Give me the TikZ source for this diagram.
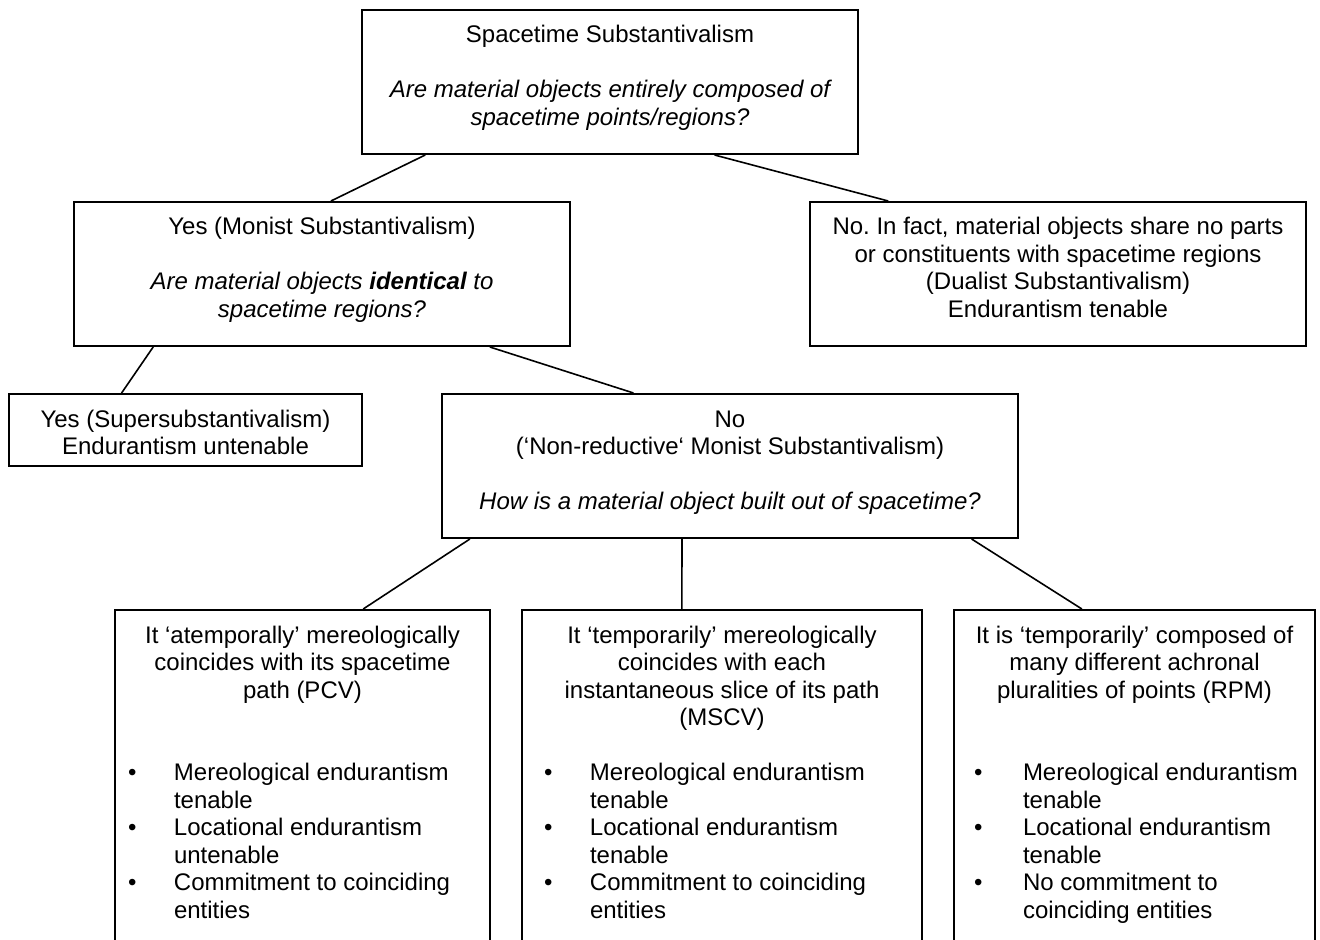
\documentclass[tikz,border=0pt]{standalone}
\usepackage{fontspec}
\setmainfont{Liberation Sans}
\usetikzlibrary{calc}
\frenchspacing

% fixed-size box, text hung from the top
\newcommand{\boxtext}[3]{\parbox[t][#2][t]{#1}{\centering\rule{0pt}{16.5pt}#3}}
\newcommand{\bulletlist}[3]{\noindent\hspace*{#1}\begin{tabular}[t]{@{}p{#2}@{}l@{}}#3\end{tabular}}

\begin{document}
\begin{tikzpicture}[x=0.5pt, y=-0.5pt,
    tbox/.style={draw=black, line width=1pt, inner sep=0pt, anchor=north west,
      font=\fontsize{12}{13.75}\selectfont},
    conn/.style={draw=black, line width=0.8pt}]
  \useasboundingbox (0,0) rectangle (1320,940);
  \clip (0,0) rectangle (1320,940);

  \node[tbox] (top) at (361,9) {\boxtext{248pt}{72pt}{Spacetime Substantivalism\\[13.75pt]
    {\itshape Are material objects entirely composed of\\spacetime points/regions?}}};
  \node[tbox] (monist) at (73,201) {\boxtext{248pt}{72pt}{Yes (Monist Substantivalism)\\[13.75pt]
    {\itshape Are material objects \textbf{identical} to\\spacetime regions?}}};
  \node[tbox] (dualist) at (809,201) {\boxtext{248pt}{72pt}{No. In fact, material objects share no parts\\
    or constituents with spacetime regions\\(Dualist Substantivalism)\\Endurantism tenable}};
  \node[tbox] (supersub) at (8,393) {\boxtext{176.5pt}{36pt}{Yes (Supersubstantivalism)\\Endurantism untenable}};
  \node[tbox] (nonred) at (441,393) {\boxtext{288pt}{72pt}{No\\(‘Non-reductive‘ Monist Substantivalism)\\[13.75pt]
    {\itshape How is a material object built out of spacetime?}}};

  \node[tbox] (pcv) at (114,609) {\boxtext{187.5pt}{180pt}{It ‘atemporally’ mereologically\\
    coincides with its spacetime\\path (PCV)\par\vspace{27.5pt}\raggedright
    \bulletlist{6.5pt}{23pt}{\textbullet & Mereological endurantism\\ & tenable\\
      \textbullet & Locational endurantism\\ & untenable\\
      \textbullet & Commitment to coinciding\\ & entities}}};
  \node[tbox] (mscv) at (521,609) {\boxtext{200pt}{180pt}{It ‘temporarily’ mereologically\\
    coincides with each\\instantaneous slice of its path\\(MSCV)\par\vspace{13.75pt}\raggedright
    \bulletlist{11pt}{23pt}{\textbullet & Mereological endurantism\\ & tenable\\
      \textbullet & Locational endurantism\\ & tenable\\
      \textbullet & Commitment to coinciding\\ & entities}}};
  \node[tbox] (rpm) at (953,609) {\boxtext{180.5pt}{180pt}{It is ‘temporarily’ composed of\\
    many different achronal\\pluralities of points (RPM)\par\vspace{27.5pt}\raggedright
    \bulletlist{10pt}{24.5pt}{\textbullet & Mereological endurantism\\ & tenable\\
      \textbullet & Locational endurantism\\ & tenable\\
      \textbullet & No commitment to\\ & coinciding entities}}};

  \draw[conn] ($(top.south west)!0.129!(top.south east)$) -- ($(monist.north west)!0.518!(monist.north east)$);
  \draw[conn] ($(top.south west)!0.710!(top.south east)$) -- ($(dualist.north west)!0.159!(dualist.north east)$);
  \draw[conn] ($(monist.south west)!0.161!(monist.south east)$) -- ($(supersub.north west)!0.320!(supersub.north east)$);
  \draw[conn] ($(monist.south west)!0.837!(monist.south east)$) -- ($(nonred.north west)!0.333!(nonred.north east)$);
  \draw[conn] ($(nonred.south west)!0.050!(nonred.south east)$) -- ($(pcv.north west)!0.661!(pcv.north east)$);
  \draw[conn] ($(nonred.south west)!0.417!(nonred.south east)$) -- ($(mscv.north west)!0.400!(mscv.north east)$);
  \draw[conn] ($(nonred.south west)!0.918!(nonred.south east)$) -- ($(rpm.north west)!0.355!(rpm.north east)$);
\end{tikzpicture}
\end{document}
